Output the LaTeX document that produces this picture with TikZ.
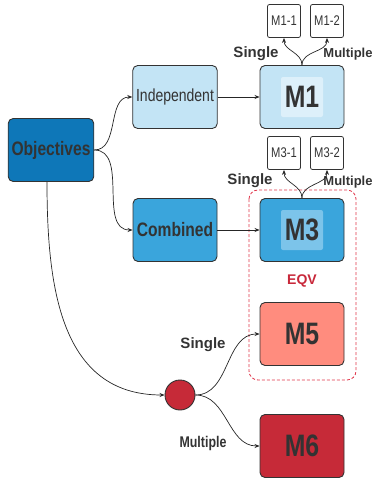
\documentclass[tikz,border=0pt]{standalone}
\usepackage{fontspec}
\setmainfont{Liberation Sans}
\newfontfamily\narrowfont[FakeStretch=0.8]{Liberation Sans}
\usetikzlibrary{arrows.meta}
\definecolor{objblue}{HTML}{0E77B8}
\definecolor{indblue}{HTML}{C3E4F5}
\definecolor{indinner}{HTML}{DDF0FA}
\definecolor{comblue}{HTML}{3AA5DC}
\definecolor{cominner}{HTML}{7CC4EA}
\definecolor{salmon}{HTML}{FF8C7E}
\definecolor{darkred}{HTML}{C62A38}
\definecolor{eqvred}{HTML}{C8283A}
\definecolor{framered}{HTML}{E0354A}
\definecolor{txtgray}{HTML}{333333}
\definecolor{edgegray}{HTML}{333333}

\begin{document}
\begin{tikzpicture}[x=1pt,y=-1pt,
		box/.style={draw=edgegray,line width=0.9pt,rounded corners=5pt,minimum width=84pt,minimum height=63pt,text=txtgray,font=\narrowfont\bfseries\fontsize{19.5}{19.5}\selectfont},
		bigtxt/.style={font=\narrowfont\bfseries\fontsize{31}{31}\selectfont,text=txtgray},
		small/.style={draw=edgegray,line width=0.8pt,rounded corners=2pt,minimum width=33pt,minimum height=33pt,inner sep=1pt,text=txtgray,font=\narrowfont\fontsize{14}{14}\selectfont},
		lbl/.style={text=txtgray,font=\bfseries\fontsize{15}{15}\selectfont},
		link/.style={draw=black!85,line width=0.7pt,-{Stealth[length=5pt,width=4pt]}}]
		\useasboundingbox (0,0) rectangle (374,482);
		% left column
		\node[box,fill=objblue] (obj) at (51,150) {Objectives};
		\node[box,fill=indblue,font=\narrowfont\fontsize{17.5}{17.5}\selectfont] (ind) at (175,97) {Independent};
		\node[box,fill=comblue] (comb) at (175,230) {Combined};
		\coordinate (objdown) at (47,182);
		% model boxes
		\node[box,fill=indblue] (mone) at (302,97) {};
		\node[fill=indinner,rounded corners=2pt,minimum width=42pt,minimum height=40pt,bigtxt] at (mone) {M1};
		\node[box,fill=comblue] (mthree) at (302,230) {};
		\node[fill=cominner,rounded corners=2pt,minimum width=42pt,minimum height=40pt,bigtxt] at (mthree) {M3};
		\node[box,fill=salmon,bigtxt] (mfive) at (302,334) {M5};
		\node[box,fill=darkred,bigtxt] (msix) at (302,446) {M6};
		\node[small] (monea) at (284,21) {M1-1};
		\node[small] (moneb) at (327,21) {M1-2};
		\node[small] (mthreea) at (284,153) {M3-1};
		\node[small] (mthreeb) at (327,153) {M3-2};
		\node[circle,draw=edgegray,line width=0.9pt,fill=darkred,minimum size=30pt,inner sep=0pt] (split) at (180,395) {};
		% equivalence frame
		\draw[framered,dash pattern=on 3pt off 2pt,line width=0.8pt,rounded corners=9pt] (249,190) rectangle (356,380);
		\node[text=eqvred,font=\bfseries\fontsize{14}{14}\selectfont] (eqv) at (302,281) {EQV};
		% labels
		\node[lbl] at (256,54) {Single};
		\node[lbl,font=\bfseries\fontsize{13}{13}\selectfont] at (348,54) {Multiple};
		\node[lbl] at (250,181) {Single};
		\node[lbl,font=\bfseries\fontsize{13}{13}\selectfont] at (348,182) {Multiple};
		\node[lbl] at (203,345) {Single};
		\node[lbl,font=\narrowfont\bfseries\fontsize{15.5}{15.5}\selectfont] at (203,443) {Multiple};
		% connectors
		\draw[link] (obj.east) to[out=0,in=180] (ind.west);
		\draw[link] (obj.east) to[out=0,in=180] (comb.west);
		\draw[link] (objdown) to[out=-90,in=180,looseness=1.1] (split.west);
		\draw[link] (ind) -- (mone);
		\draw[link] (comb) -- (mthree);
		\draw[link] (mone.north) to[out=90,in=-90] (monea.south);
		\draw[link] (mone.north) to[out=90,in=-90] (moneb.south);
		\draw[link] (mthree.north) to[out=90,in=-90] (mthreea.south);
		\draw[link] (mthree.north) to[out=90,in=-90] (mthreeb.south);
		\draw[link] (split.east) to[out=0,in=180] (mfive.west);
		\draw[link] (split.east) to[out=0,in=180] (msix.west);
	\end{tikzpicture}
\end{document}
